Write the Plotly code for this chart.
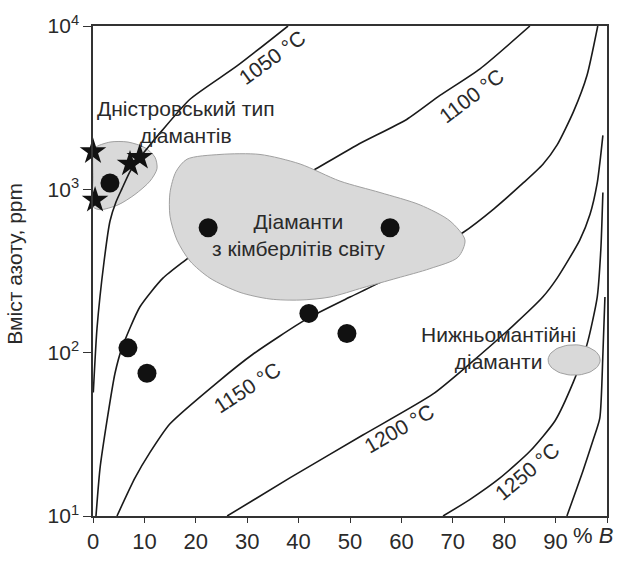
import numpy as np
import plotly.graph_objects as go

# ---- isotherms (x = % B, y = N ppm) ----
t1050_x = [0.06, 0.78, 2.14, 3.31, 4.47, 5.64, 7.2, 9.14, 11.09, 13.42, 18.87, 28.02, 37.94]
t1050_y = [57, 141, 359, 640, 836, 1009, 1284, 1571, 1870, 2288, 3560, 5692, 10000]

t1100_x = [0.58, 1.36, 2.72, 4.28, 5.64, 9.14, 13.6, 18.9, 30.5, 42.8, 51.4, 61.1, 67.5, 75.3, 85.0]
t1100_y = [10, 19.5, 38.3, 74.8, 107, 191, 286, 389, 782, 1302, 1870, 2687, 3757, 5470, 10000]

t1150_x = [4.67, 8.17, 11.09, 14.98, 24.1, 31.1, 41.6, 50.0, 56.4, 64.6, 72.0, 78.0, 83.7, 87.5, 90.3, 93.5, 96.1, 98.2]
t1150_y = [10, 17.1, 24.5, 36.7, 65.4, 97.8, 161, 219, 275, 400, 544, 760, 1094, 1420, 1870, 3000, 4977, 10000]

t1200_x = [26.1, 38.3, 52.5, 66.1, 73.3, 81.7, 87.5, 90.3, 94.7, 96.7, 98.1, 98.8, 99.2]
t1200_y = [10, 17.1, 31.3, 55.7, 85.5, 146, 219, 286, 489, 703, 1094, 1636, 2138]

t1250_x = [68.1, 73.3, 79.2, 85.0, 89.9, 93.4, 96.1, 98.1, 98.8, 99.2]
t1250_y = [10, 12.6, 17.1, 24.9, 38.3, 65.5, 112, 219, 428, 957]

t1300_x = [92.2, 95.3, 97.3, 98.6, 99.2, 99.6]
t1300_y = [10, 18.8, 29.2, 39.8, 97.8, 219]

# ---- fields ----
dnister_x = [0.39, 3.31, 6.81, 10.12, 12.06, 12.45, 11.09, 8.17, 4.86, 1.36, 0, 0, 0, 0.39]
dnister_y = [1797, 1947, 1947, 1797, 1571, 1337, 1123, 931, 803, 751, 782, 1169, 1635, 1797]

kimb_x = [18.29, 24.71, 32.49, 40.27, 48.05, 55.84, 63.62, 69.46, 72.37, 71.01, 65.56, 59.14,
          52.53, 46.11, 40.27, 34.44, 28.6, 22.76, 18.87, 16.34, 14.98, 14.98, 16.15, 18.29]
kimb_y = [1529, 1635, 1635, 1430, 1123, 956, 803, 640, 489, 384, 327, 286,
          250, 219, 210, 213, 234, 286, 364, 489, 684, 956, 1284, 1529]

lower_center = (93.6, 90.2)
lower_rx = 5.06      # in % B
lower_ry = 0.093     # in decades

# ---- points ----
dots_x = [3.3, 22.4, 57.8, 42.0, 49.4, 6.8, 10.5]
dots_y = [1094, 582, 582, 174, 131, 107, 74.8]

stars_x = [0.0, 0.4, 7.2, 9.1]
stars_y = [1702, 859, 1430, 1571]

x_ticks = [0, 10, 20, 30, 40, 50, 60, 70, 80, 90, 100]
x_ticktext = ["0", "10", "20", "30", "40", "50", "60", "70", "80", "90", ""]
y_ticks = [10, 100, 1000, 10000]
y_ticktext = ["10<sup>1</sup>", "10<sup>2</sup>", "10<sup>3</sup>", "10<sup>4</sup>"]

FONT = "Liberation Sans, Arial, sans-serif"
TXT = "#2a2a2a"
FILL = "#d9d9d9"
EDGE = "#a0a0a0"
TS = 21

fig = go.Figure()

fig.add_trace(go.Scatter(x=dnister_x, y=dnister_y, mode="lines", fill="toself",
                         fillcolor=FILL, line=dict(color=EDGE, width=1, shape="spline", smoothing=0.8),
                         hoverinfo="skip", showlegend=False))

for xs, ys in [(t1050_x, t1050_y), (t1100_x, t1100_y), (t1150_x, t1150_y),
               (t1200_x, t1200_y), (t1250_x, t1250_y), (t1300_x, t1300_y)]:
    fig.add_trace(go.Scatter(x=xs, y=ys, mode="lines",
                             line=dict(color="#1a1a1a", width=1.6, shape="spline", smoothing=0.6),
                             hoverinfo="skip", showlegend=False))

fig.add_trace(go.Scatter(x=kimb_x, y=kimb_y, mode="lines", fill="toself",
                         fillcolor=FILL, line=dict(color=EDGE, width=1, shape="spline", smoothing=0.8),
                         hoverinfo="skip", showlegend=False))

t = np.linspace(0, 2 * np.pi, 60)
ell_x = lower_center[0] + lower_rx * np.cos(t)
ell_y = 10 ** (np.log10(lower_center[1]) + lower_ry * np.sin(t))
fig.add_trace(go.Scatter(x=ell_x, y=ell_y, mode="lines", fill="toself",
                         fillcolor=FILL, line=dict(color=EDGE, width=1),
                         hoverinfo="skip", showlegend=False))

fig.add_trace(go.Scatter(x=dots_x, y=dots_y, mode="markers",
                         marker=dict(size=19, color="#111111"),
                         cliponaxis=False, showlegend=False))
fig.add_trace(go.Scatter(x=stars_x, y=stars_y, mode="markers",
                         marker=dict(symbol="star", size=20, color="#111111"),
                         cliponaxis=False, showlegend=False))

ann = []
def add_text(x, ylog, text, angle=0, size=TS):
    ann.append(dict(x=x, y=ylog, xref="x", yref="y", text=text, showarrow=False,
                    textangle=angle, font=dict(family=FONT, size=size, color=TXT)))

add_text(18.1, 3.415, "Дністровський тип<br>діамантів")
add_text(39.9, 2.718, "Діаманти<br>з кімберлітів світу")
add_text(78.8, 2.026, "Нижньомантійні<br>діаманти")
add_text(34.8, 3.808, "1050 °C", -36)
add_text(73.7, 3.575, "1100 °C", -37)
add_text(30.0, 1.786, "1150 °C", -33)
add_text(59.5, 1.536, "1200 °C", -30)
add_text(84.4, 1.274, "1250 °C", -40)

ann.append(dict(x=97.3, y=0, xref="x", yref="paper", yanchor="top", yshift=-5,
                text="% <i>B</i>", showarrow=False,
                font=dict(family=FONT, size=22, color=TXT)))
ann.append(dict(x=-0.178, y=0.515, xref="paper", yref="paper", text="Вміст азоту, ppm",
                textangle=-90, showarrow=False,
                font=dict(family=FONT, size=TS, color=TXT)))

fig.update_layout(
    width=621, height=566,
    margin=dict(l=93, r=14, t=15, b=36),
    paper_bgcolor="white", plot_bgcolor="white",
    font=dict(family=FONT, color=TXT),
    annotations=ann,
    showlegend=False,
)
fig.update_xaxes(range=[0, 100], tickvals=x_ticks, ticktext=x_ticktext,
                 ticks="outside", ticklen=5, tickcolor="#333", tickwidth=1.3,
                 showline=True, linecolor="#333", linewidth=1.5, mirror=True,
                 showgrid=False, zeroline=False,
                 tickfont=dict(family=FONT, size=22, color=TXT))
fig.update_yaxes(type="log", range=[1, 4], tickvals=y_ticks, ticktext=y_ticktext,
                 ticks="outside", ticklen=8, tickcolor="#333", tickwidth=1.3,
                 showline=True, linecolor="#333", linewidth=1.5, mirror=True,
                 showgrid=False, zeroline=False,
                 tickfont=dict(family=FONT, size=21, color=TXT))

fig.write_html("out.html")
